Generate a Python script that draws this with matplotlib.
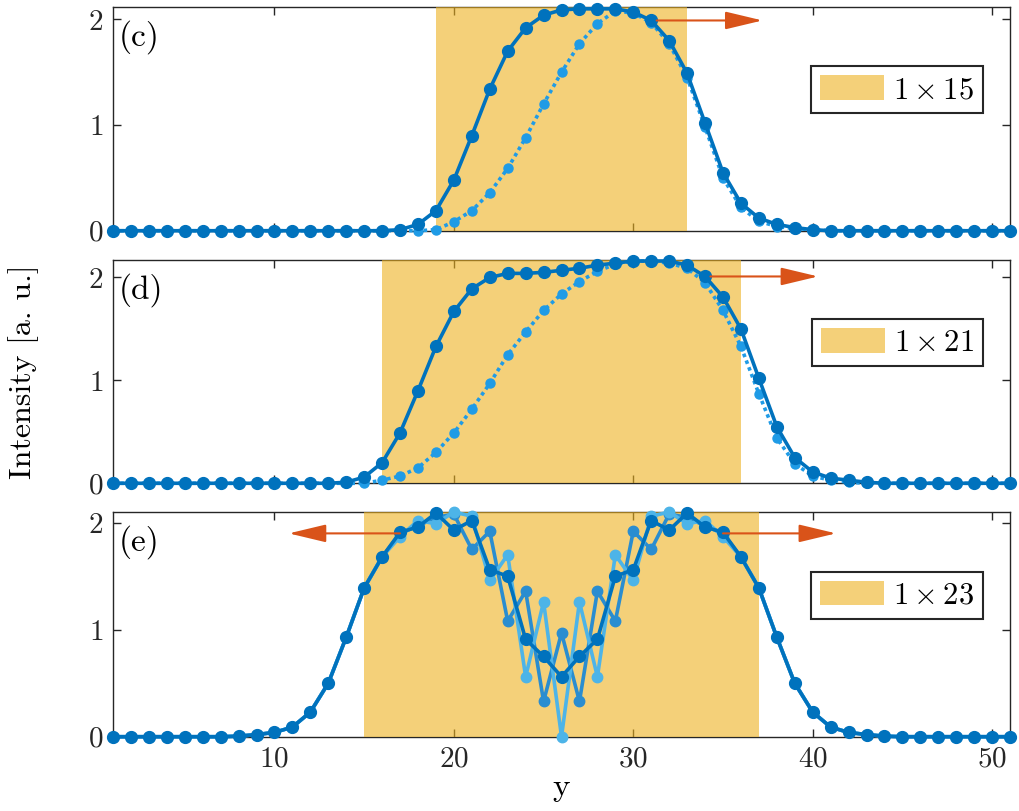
import matplotlib.pyplot as plt
import numpy as np
from matplotlib.patches import Patch

plt.rcParams['font.family'] = 'serif'
plt.rcParams['font.serif'] = ['cmr10']
plt.rcParams['mathtext.fontset'] = 'cm'
plt.rcParams['axes.formatter.use_mathtext'] = True

# data, y = 1..51
y = np.arange(1, 52)

c_solid = [0, 0, 0, 0, 0, 0, 0, 0, 0, 0, 0, 0, 0, 0, 0, 0, 0.01, 0.06, 0.19, 0.48,
           0.90, 1.34, 1.70, 1.92, 2.04, 2.09, 2.10, 2.10, 2.10, 2.07,
           1.99, 1.80, 1.49, 1.02, 0.55, 0.26, 0.12, 0.06, 0.03, 0.01,
           0, 0, 0, 0, 0, 0, 0, 0, 0, 0, 0]
c_dot = [0, 0, 0, 0, 0, 0, 0, 0, 0, 0, 0, 0, 0, 0, 0, 0, 0, 0, 0.01, 0.085,
         0.19, 0.36, 0.59, 0.88, 1.20, 1.50, 1.77, 1.96, 2.08, 2.06,
         1.97, 1.77, 1.45, 0.98, 0.50, 0.22, 0.09, 0.04, 0.02, 0.01,
         0, 0, 0, 0, 0, 0, 0, 0, 0, 0, 0]

d_solid = [0, 0, 0, 0, 0, 0, 0, 0, 0, 0, 0, 0, 0, 0.01, 0.06, 0.20, 0.49, 0.90, 1.33, 1.67,
           1.89, 2.00, 2.04, 2.04, 2.05, 2.07, 2.09, 2.12, 2.14, 2.16,
           2.16, 2.16, 2.12, 2.01, 1.81, 1.50, 1.02, 0.55, 0.25, 0.11,
           0.05, 0.03, 0.01, 0, 0, 0, 0, 0, 0, 0, 0]
d_dot = [0, 0, 0, 0, 0, 0, 0, 0, 0, 0, 0, 0, 0, 0, 0, 0.03, 0.07, 0.15, 0.30, 0.49,
         0.72, 0.97, 1.25, 1.47, 1.68, 1.84, 1.96, 2.06, 2.13, 2.16,
         2.16, 2.14, 2.09, 1.95, 1.68, 1.33, 0.87, 0.44, 0.19, 0.07,
         0.03, 0.01, 0, 0, 0, 0, 0, 0, 0, 0, 0]

e_dark = [0, 0, 0, 0, 0, 0, 0, 0.005, 0.02, 0.04, 0.09, 0.23, 0.50, 0.93, 1.39, 1.68, 1.91, 1.96, 2.09, 1.93,
          2.02, 1.56, 1.50, 0.91, 0.75, 0.56, 0.75, 0.91, 1.50, 1.56,
          2.02, 1.93, 2.09, 1.96, 1.91, 1.68, 1.39, 0.93, 0.50, 0.23,
          0.09, 0.04, 0.02, 0.005, 0, 0, 0, 0, 0, 0, 0]
e_mid = [0, 0, 0, 0, 0, 0, 0, 0.005, 0.02, 0.04, 0.09, 0.23, 0.50, 0.93, 1.39, 1.68, 1.90, 1.97, 2.05, 2.08,
         1.75, 1.92, 1.08, 1.36, 0.33, 0.97, 0.33, 1.36, 1.08, 1.92,
         1.75, 2.08, 2.05, 1.97, 1.90, 1.68, 1.39, 0.93, 0.50, 0.23,
         0.09, 0.04, 0.02, 0.005, 0, 0, 0, 0, 0, 0, 0]
e_light = [0, 0, 0, 0, 0, 0, 0, 0.005, 0.02, 0.04, 0.09, 0.23, 0.50, 0.93, 1.39, 1.68, 1.87, 2.02, 1.99, 2.10,
           2.06, 1.46, 1.70, 0.56, 1.26, 0.0, 1.26, 0.56, 1.70, 1.46,
           2.06, 2.10, 1.99, 2.02, 1.87, 1.68, 1.39, 0.93, 0.50, 0.23,
           0.09, 0.04, 0.02, 0.005, 0, 0, 0, 0, 0, 0, 0]

windows = [(19, 33), (16, 36), (15, 37)]
win_labels = [r'$1\times15$', r'$1\times21$', r'$1\times23$']
panel_labels = ['(c)', '(d)', '(e)']
ylims = [2.12, 2.17, 2.10]
# arrows: (start, tip, height)
arrows = [[(31.3, 37.2, 1.99)],
          [(34.3, 40.3, 2.01)],
          [(17.0, 10.8, 1.90), (35.0, 41.3, 1.90)]]

blue = '#0072BD'
blue_dot = '#1F9BE6'
blue_mid = '#2A8DD0'
blue_light = '#4DB4E8'
shade = (0.929, 0.694, 0.125)
arrow_col = '#D95319'

fig = plt.figure(figsize=(10.19, 8.11), dpi=100)
boxes = [(0.1109, 0.7155, 0.8803, 0.2762),
         (0.1109, 0.4041, 0.8803, 0.2753),
         (0.1109, 0.0916, 0.8803, 0.2771)]
axes = [fig.add_axes(b) for b in boxes]

for i, ax in enumerate(axes):
    ax.axvspan(windows[i][0], windows[i][1], color=shade, alpha=0.6, lw=0, zorder=2.6)
    if i < 2:
        sol = [c_solid, d_solid][i]
        dot = [c_dot, d_dot][i]
        ax.plot(y, dot, ls=(0, (1, 1)), lw=2.6, color=blue_dot, marker='o', ms=6.5,
                clip_on=False, zorder=3)
        ax.plot(y, sol, '-', lw=2.6, color=blue, marker='o', ms=8.5, clip_on=False, zorder=4)
    else:
        ax.plot(y, e_mid, '-', lw=2.6, color=blue_mid, marker='o', ms=7.5, clip_on=False, zorder=3)
        ax.plot(y, e_light, '-', lw=2.6, color=blue_light, marker='o', ms=7.5, clip_on=False, zorder=3.1)
        ax.plot(y, e_dark, '-', lw=2.6, color=blue, marker='o', ms=8.5, clip_on=False, zorder=4)
    for (x0, x1, h) in arrows[i]:
        ax.annotate('', xy=(x1, h), xytext=(x0, h), zorder=5,
                    arrowprops=dict(arrowstyle='-|>,head_length=23,head_width=5.5',
                                    mutation_scale=1, color=arrow_col, lw=1.5,
                                    shrinkA=0, shrinkB=0))
    ax.set_xlim(1, 51)
    ax.set_ylim(0, ylims[i])
    ax.set_yticks([0, 1, 2])
    ax.set_xticks([10, 20, 30, 40, 50])
    ax.tick_params(direction='in', length=6, width=1, top=True, right=True,
                   labelsize=21, pad=7, colors='#262626')
    for s in ax.spines.values():
        s.set_color('#262626')
        s.set_linewidth(1)
    if i < 2:
        ax.set_xticklabels([])
    ax.text(0.006, 0.94, panel_labels[i], transform=ax.transAxes, fontsize=24,
            ha='left', va='top', zorder=6)
    leg = ax.legend(handles=[Patch(facecolor=shade, alpha=0.6, edgecolor='none')],
                    labels=[win_labels[i]], loc='upper right', bbox_to_anchor=(0.97, 0.735),
                    fontsize=22, frameon=True, fancybox=False, framealpha=1,
                    edgecolor='#262626', handlelength=2.1, handleheight=0.85,
                    borderpad=0.3, handletextpad=0.3, borderaxespad=0)
    leg.get_frame().set_linewidth(1.5)
    leg.set_zorder(7)

axes[1].set_ylabel('Intensity [a. u.]', fontsize=23)
axes[1].yaxis.set_label_coords(-0.083, 0.5)
axes[2].set_xlabel('y', fontsize=24, labelpad=0)

plt.savefig('out.png', dpi=100)
